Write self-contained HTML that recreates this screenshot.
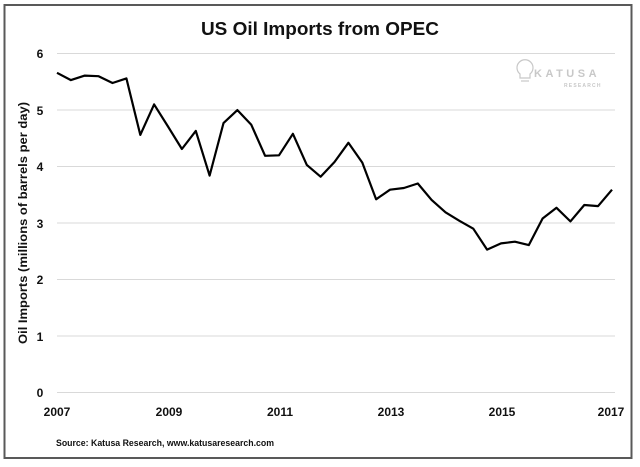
<!DOCTYPE html>
<html><head><meta charset="utf-8"><style>
html,body{margin:0;padding:0;background:#fff;}
svg{display:block;}
text{font-family:"Liberation Sans",sans-serif;font-weight:bold;fill:#111;}
</style></head><body>
<svg width="640" height="467" viewBox="0 0 640 467" xmlns="http://www.w3.org/2000/svg">
<rect x="0" y="0" width="640" height="467" fill="#fff"/>
<rect x="4.5" y="5" width="627" height="453" fill="none" stroke="#595959" stroke-width="2"/>
<text x="320" y="35" text-anchor="middle" font-size="18" style="font-stretch:condensed" textLength="238" lengthAdjust="spacingAndGlyphs">US Oil Imports from OPEC</text>
<g stroke="#d9d9d9" stroke-width="1">
<line x1="57" x2="615" y1="53.5" y2="53.5"/>
<line x1="57" x2="615" y1="110" y2="110"/>
<line x1="57" x2="615" y1="166.5" y2="166.5"/>
<line x1="57" x2="615" y1="223" y2="223"/>
<line x1="57" x2="615" y1="279.5" y2="279.5"/>
<line x1="57" x2="615" y1="336" y2="336"/>
<line x1="57" x2="615" y1="392.5" y2="392.5"/>
</g>
<g font-size="12" text-anchor="middle">
<text x="40" y="58">6</text>
<text x="40" y="115">5</text>
<text x="40" y="171">4</text>
<text x="40" y="228">3</text>
<text x="40" y="284">2</text>
<text x="40" y="341">1</text>
<text x="40" y="397">0</text>
<text x="57" y="416">2007</text>
<text x="169" y="416">2009</text>
<text x="280" y="416">2011</text>
<text x="391" y="416">2013</text>
<text x="502" y="416">2015</text>
<text x="611" y="416">2017</text>
</g>
<text transform="translate(27,223) rotate(-90)" text-anchor="middle" font-size="12" textLength="242" lengthAdjust="spacingAndGlyphs">Oil Imports (millions of barrels per day)</text>
<text x="56" y="446" font-size="9" textLength="218" lengthAdjust="spacingAndGlyphs">Source: Katusa Research, www.katusaresearch.com</text>
<g fill="none" stroke="#c8c8c8" stroke-width="1.2">
<path d="M520 74 a8 8 0 1 1 10 0 v4 h-10z"/>
<line x1="521" y1="81" x2="529" y2="81"/>
</g>
<text x="534" y="77" font-size="11" fill="#c8c8c8" style="fill:#c8c8c8" letter-spacing="3.5">KATUSA</text>
<text x="564" y="87" font-size="5" style="fill:#c8c8c8" letter-spacing="1.2">RESEARCH</text>
<polyline fill="none" stroke="#000" stroke-width="2.2" stroke-linejoin="round" points="
57,72.8 70.9,80.1 84.8,75.6 98.6,76.2 112.5,83 126.4,78.4 140.3,134.9 154.1,104.4 168,126.5 181.9,149 195.8,130.9 209.6,175.6 223.5,123.1 237.4,110.1 251.3,124.8 265.1,155.8 279,155.3 292.9,133.8 306.8,164.9 320.6,176.7 334.5,162 348.4,142.8 362.3,162.6 376.1,199.3 390,189.7 403.9,188 417.8,183.5 431.6,199.9 445.5,212.3 459.4,220.8 473.3,228.7 487.1,249.6 501,243.4 514.9,241.7 528.8,245.1 542.6,218.5 556.5,207.8 570.4,221.4 584.3,205 598.1,206.1 612,189.7"/>
</svg>
</body></html>
